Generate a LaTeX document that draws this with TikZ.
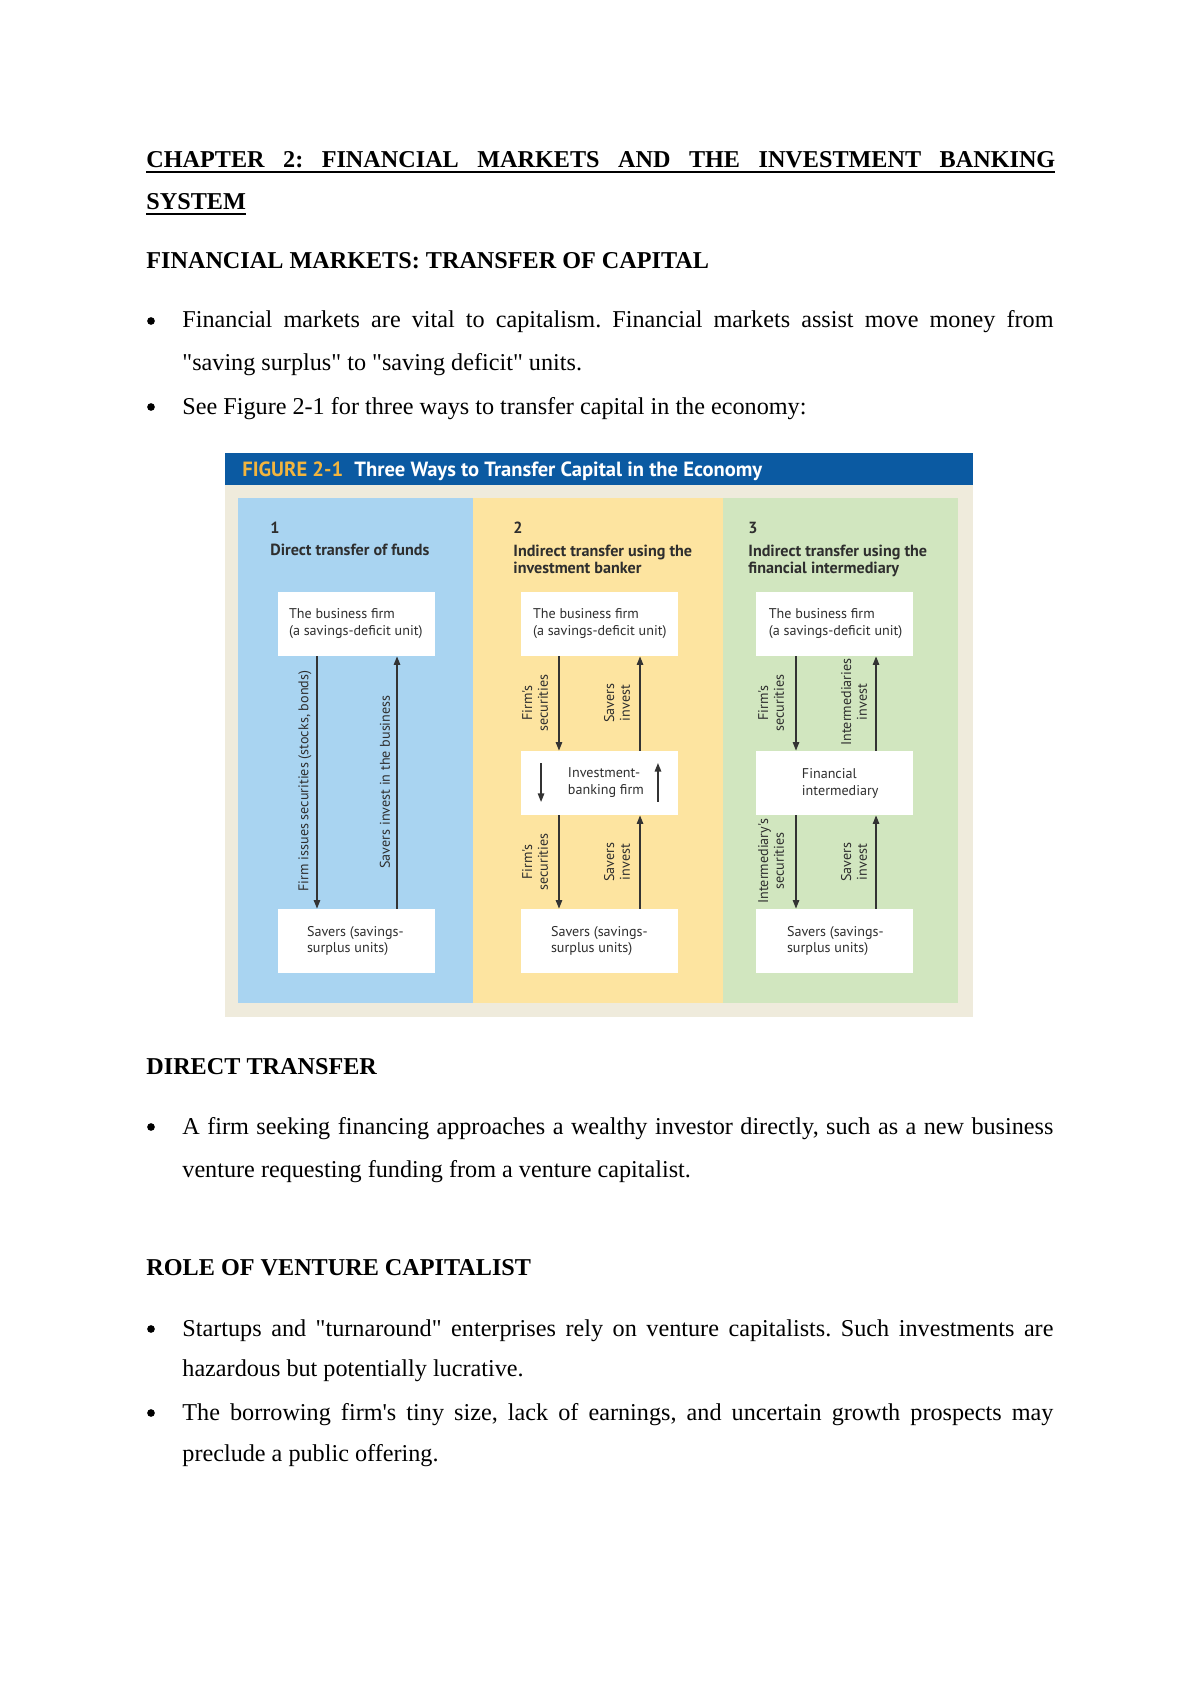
\documentclass[tikz,border=0pt]{standalone}
\usepackage{fontspec}
\setmainfont{Liberation Serif}[Ligatures=TeXOff]
\newfontfamily\figfont{PT Sans}
\usetikzlibrary{arrows.meta,calc}
\definecolor{hdrblue}{HTML}{0B5AA2}
\definecolor{hdrgold}{HTML}{F2B53E}
\definecolor{beige}{HTML}{EFEBDC}
\definecolor{pblue}{HTML}{A9D4F1}
\definecolor{pyellow}{HTML}{FDE4A0}
\definecolor{pgreen}{HTML}{D1E6BF}
\definecolor{figtext}{HTML}{2E2E2E}
\definecolor{arrgray}{HTML}{333333}
\tikzset{
  body/.style={font=\fontsize{12}{14}\selectfont, inner sep=0pt, anchor=base west},
  bodyb/.style={body, font=\fontsize{12}{14}\selectfont\bfseries},
  bul/.style={fill=black, circle, inner sep=0pt, minimum size=3.8pt},
  ubar/.style={line width=0.6pt},
  whitebox/.style={fill=white, draw=none, inner sep=0pt, minimum width=77.9pt, minimum height=31.75pt},
  boxtxt/.style={font=\figfont\fontsize{7}{8.4}\selectfont, text=figtext, align=left, inner sep=0pt, anchor=west},
  vlbl/.style={font=\figfont\fontsize{7}{7.8}\selectfont, text=figtext, align=center, inner sep=0pt, rotate=90},
  phead/.style={font=\figfont\fontsize{8}{8.6}\selectfont\bfseries, text=figtext, inner sep=0pt, anchor=base west},
  ftitle/.style={font=\figfont\fontsize{10.2}{11}\selectfont\bfseries, inner sep=0pt, anchor=base west},
  arr/.style={draw=arrgray, line width=0.6pt, -{Triangle[length=4.2pt, width=3.2pt]}},
}
\frenchspacing
\begin{document}
\frenchspacing
\begin{tikzpicture}[x=0.49606pt, y=-0.49606pt]
\useasboundingbox[fill=white] (0,0) rectangle (1200,1697);

% ---------- page text (top) ----------
\node[bodyb] (title1) at (146,168) {\frenchspacing\makebox[450.9pt][s]{CHAPTER 2: FINANCIAL MARKETS AND THE INVESTMENT BANKING}};
\draw[ubar] (title1.base west) ++(0,4) -- ++(909,0);
\node[bodyb] (title2) at (146,210) {SYSTEM};
\draw[ubar] (title2.base west) ++(0,4) -- (title2.base east |- 0,214);
\node[bodyb] (h1) at (146,269) {FINANCIAL MARKETS: TRANSFER OF CAPITAL};

\node[bul] (b1) at (151,321) {};
\node[body] (l1) at (182,328) {\frenchspacing\makebox[432.1pt][s]{Financial markets are vital to capitalism. Financial markets assist move money from}};
\node[body] (l2) at (182,371) {"saving surplus" to "saving deficit" units.};
\node[bul] (b2) at (151,407) {};
\node[body] (l3) at (182,414) {See Figure 2-1 for three ways to transfer capital in the economy:};

% ---------- figure ----------
\fill[beige] (225,485) rectangle (973,1017);
\fill[hdrblue] (225,453) rectangle (973,485);
\node[ftitle, text=hdrgold] (fig) at (242,476) {FIGURE 2-1};
\node[ftitle, text=white] (figt) at (354,476) {Three Ways to Transfer Capital in the Economy};

\fill[pblue] (238,498) rectangle (473,1003);
\fill[pyellow] (473,498) rectangle (723,1003);
\fill[pgreen] (723,498) rectangle (958,1003);

% panel headings
\node[phead] (n1) at (270,533) {1};
\node[phead] (h1a) at (270,555) {Direct transfer of funds};
\node[phead] (n2) at (513,533) {2};
\node[phead] (h2a) at (513,556) {Indirect transfer using the};
\node[phead] (h2b) at (513,573) {investment banker};
\node[phead] (n3) at (748,533) {3};
\node[phead] (h3a) at (748,556) {Indirect transfer using the};
\node[phead] (h3b) at (748,573) {financial intermediary};

% boxes
\node[whitebox] (p1a) at (356.5,624) {};
\node[whitebox] (p1b) at (356.5,941) {};
\node[whitebox] (p2a) at (599.5,624) {};
\node[whitebox] (p2m) at (599.5,783) {};
\node[whitebox] (p2b) at (599.5,941) {};
\node[whitebox] (p3a) at (834.5,624) {};
\node[whitebox] (p3m) at (834.5,783) {};
\node[whitebox] (p3b) at (834.5,941) {};

% box texts
\node[boxtxt] (t1a) at ([xshift=5.5pt]p1a.west) {The business firm\\(a savings-deficit unit)};
\node[boxtxt] (t1b) at ([xshift=14.4pt]p1b.west) {Savers (savings-\\surplus units)};
\node[boxtxt] (t2a) at ([xshift=6pt]p2a.west) {The business firm\\(a savings-deficit unit)};
\node[boxtxt] (t2m) at ([xshift=23.3pt]p2m.west) {Investment-\\banking firm};
\node[boxtxt] (t2b) at ([xshift=14.9pt]p2b.west) {Savers (savings-\\surplus units)};
\node[boxtxt] (t3a) at ([xshift=6.4pt]p3a.west) {The business firm\\(a savings-deficit unit)};
\node[boxtxt] (t3m) at ([xshift=22.8pt]p3m.west) {Financial\\intermediary};
\node[boxtxt] (t3b) at ([xshift=15.4pt]p3b.west) {Savers (savings-\\surplus units)};

% arrows panel 1
\draw[arr] ([xshift=-19.6pt]p1a.south) -- ([xshift=-19.6pt]p1b.north);
\draw[arr] ([xshift=20.1pt]p1b.north) -- ([xshift=20.1pt]p1a.south);
% arrows panel 2
\draw[arr] ([xshift=-20.1pt]p2a.south) -- ([xshift=-20.1pt]p2m.north);
\draw[arr] ([xshift=20.1pt]p2m.north) -- ([xshift=20.1pt]p2a.south);
\draw[arr] ([xshift=-20.1pt]p2m.south) -- ([xshift=-20.1pt]p2b.north);
\draw[arr] ([xshift=20.1pt]p2b.north) -- ([xshift=20.1pt]p2m.south);
\draw[arr] ([xshift=-29pt,yshift=9.9pt]p2m.center) -- ([xshift=-29pt,yshift=-9.4pt]p2m.center);
\draw[arr] ([xshift=29pt,yshift=-9.4pt]p2m.center) -- ([xshift=29pt,yshift=9.9pt]p2m.center);
% arrows panel 3
\draw[arr] ([xshift=-19.1pt]p3a.south) -- ([xshift=-19.1pt]p3m.north);
\draw[arr] ([xshift=20.6pt]p3m.north) -- ([xshift=20.6pt]p3a.south);
\draw[arr] ([xshift=-19.1pt]p3m.south) -- ([xshift=-19.1pt]p3b.north);
\draw[arr] ([xshift=20.6pt]p3b.north) -- ([xshift=20.6pt]p3m.south);

% rotated labels
\node[vlbl] (v1a) at (305,781) {Firm issues securities (stocks, bonds)};
\node[vlbl] (v1b) at (385,782) {Savers invest in the business};
\node[vlbl] (v2a) at (535,703) {Firm's\\securities};
\node[vlbl] (v2b) at (617,703) {Savers\\invest};
\node[vlbl] (v2c) at (535,862) {Firm's\\securities};
\node[vlbl] (v2d) at (617,862) {Savers\\invest};
\node[vlbl] (v3a) at (771,703) {Firm's\\securities};
\node[vlbl] (v3b) at (854,702) {Intermediaries\\invest};
\node[vlbl] (v3c) at (771,861) {Intermediary's\\securities};
\node[vlbl] (v3d) at (854,862) {Savers\\invest};

% ---------- page text (bottom) ----------
\node[bodyb] (h2) at (146,1074) {DIRECT TRANSFER};
\node[bul] (b3) at (151,1127) {};
\node[body] (l4) at (182,1134) {\frenchspacing\makebox[432.1pt][s]{A firm seeking financing approaches a wealthy investor directly, such as a new business}};
\node[body] (l5) at (182,1177) {venture requesting funding from a venture capitalist.};
\node[bodyb] (h3) at (146,1275) {ROLE OF VENTURE CAPITALIST};
\node[bul] (b4) at (151,1329) {};
\node[body] (l6) at (182,1336) {\frenchspacing\makebox[432.1pt][s]{Startups and "turnaround" enterprises rely on venture capitalists. Such investments are}};
\node[body] (l7) at (182,1376) {hazardous but potentially lucrative.};
\node[bul] (b5) at (151,1413) {};
\node[body] (l8) at (182,1420) {\frenchspacing\makebox[432.1pt][s]{The borrowing firm's tiny size, lack of earnings, and uncertain growth prospects may}};
\node[body] (l9) at (182,1461) {preclude a public offering.};
\end{tikzpicture}
\end{document}
